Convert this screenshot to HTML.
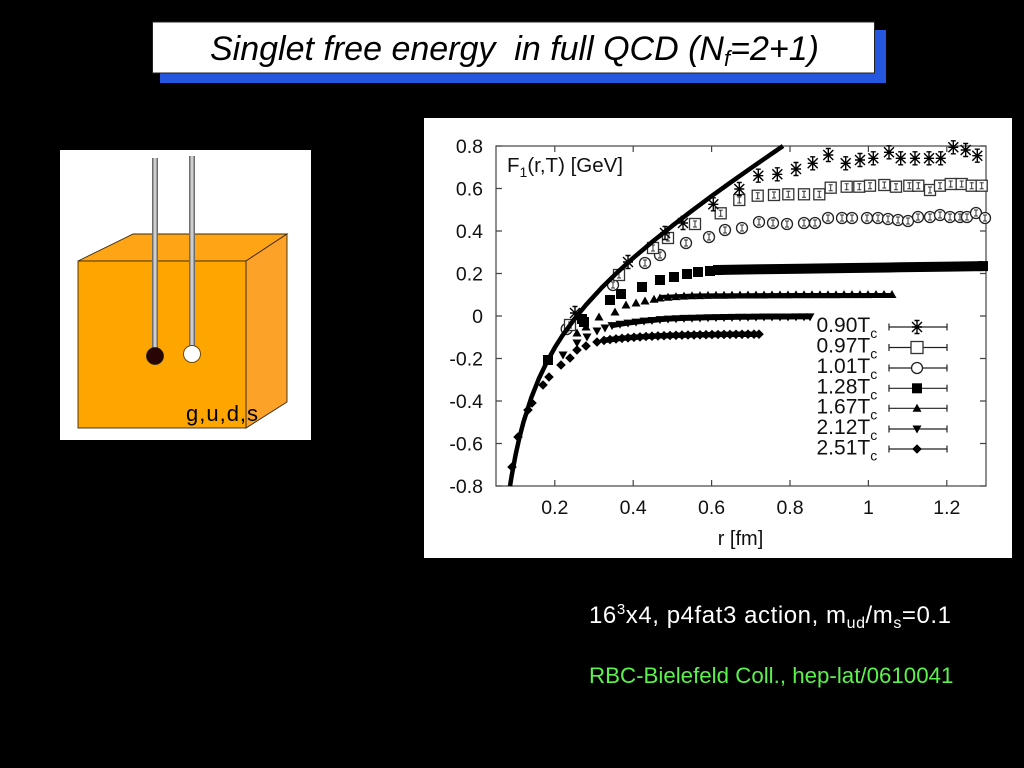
<!DOCTYPE html>
<html><head><meta charset="utf-8"><style>
html,body{margin:0;padding:0;background:#000;width:1024px;height:768px;overflow:hidden}
svg{display:block}
</style></head><body>
<svg width="1024" height="768" viewBox="0 0 1024 768" xmlns="http://www.w3.org/2000/svg" font-family="'Liberation Sans', Arial, sans-serif">
<defs>
<linearGradient id="rod" x1="0" y1="0" x2="1" y2="0">
<stop offset="0" stop-color="#555"/><stop offset="0.5" stop-color="#e6e6e6"/><stop offset="1" stop-color="#555"/>
</linearGradient>
<marker id="mStar" markerUnits="userSpaceOnUse" markerWidth="16" markerHeight="16" refX="8" refY="8" overflow="visible"><path d="M3 3L13 13M3 13L13 3M8 1.5V14.5M3 8H13M5.5 1.5H10.5M5.5 14.5H10.5" stroke="#000" stroke-width="1.4" fill="none"/></marker>
<marker id="mOSq" markerUnits="userSpaceOnUse" markerWidth="16" markerHeight="16" refX="8" refY="8" overflow="visible"><rect x="2.5" y="2.5" width="11" height="11" fill="#fff" stroke="#333" stroke-width="1.3"/><path d="M8 5V11M6 5H10M6 11H10" stroke="#333" stroke-width="1" fill="none"/></marker>
<marker id="mCir" markerUnits="userSpaceOnUse" markerWidth="16" markerHeight="16" refX="8" refY="8" overflow="visible"><circle cx="8" cy="8" r="5.5" fill="#fff" stroke="#222" stroke-width="1.3"/><path d="M8 5V11M6 5H10M6 11H10" stroke="#333" stroke-width="1" fill="none"/></marker>
<marker id="mOCirL" markerUnits="userSpaceOnUse" markerWidth="16" markerHeight="16" refX="8" refY="8" overflow="visible"><circle cx="8" cy="8" r="5.5" fill="#fff" stroke="#222" stroke-width="1.3"/></marker>
<marker id="mOSqL" markerUnits="userSpaceOnUse" markerWidth="16" markerHeight="16" refX="8" refY="8" overflow="visible"><rect x="2" y="2" width="12" height="12" fill="#fff" stroke="#333" stroke-width="1.3"/></marker>
<marker id="mFSq" markerUnits="userSpaceOnUse" markerWidth="16" markerHeight="16" refX="8" refY="8" overflow="visible"><rect x="3" y="3" width="10" height="10" fill="#000"/></marker>
<marker id="mTri" markerUnits="userSpaceOnUse" markerWidth="16" markerHeight="16" refX="8" refY="8" overflow="visible"><path d="M8 3.5L12.5 11.5H3.5Z" fill="#000"/></marker>
<marker id="mDTri" markerUnits="userSpaceOnUse" markerWidth="16" markerHeight="16" refX="8" refY="8" overflow="visible"><path d="M3.5 4.5H12.5L8 12.5Z" fill="#000"/></marker>
<marker id="mDia" markerUnits="userSpaceOnUse" markerWidth="16" markerHeight="16" refX="8" refY="8" overflow="visible"><path d="M8 3.2L12.8 8L8 12.8L3.2 8Z" fill="#000"/></marker>
</defs>

<rect width="1024" height="768" fill="#000"/>

<!-- Title -->
<rect x="160" y="30" width="726" height="53" fill="#2456e0"/>
<rect x="152.5" y="22" width="722" height="51" fill="#fff" stroke="#222" stroke-width="1"/>
<text x="210" y="60" font-size="34" font-style="italic" fill="#000">Singlet free energy&#160; in full QCD (N<tspan font-size="22" dy="6">f</tspan><tspan dy="-6">=2+1)</tspan></text>

<!-- Left picture -->
<rect x="60" y="150" width="251" height="290" fill="#fff"/>
<polygon points="78,261 133,234 287,234 246,261" fill="#ffa414" stroke="#3a2a10" stroke-width="0.9"/>
<polygon points="246,261 287,234 287,402 246,428" fill="#fda229" stroke="#3a2a10" stroke-width="0.9"/>
<rect x="78" y="261" width="168" height="167" fill="#ffa500" stroke="#3a2a10" stroke-width="0.9"/>
<rect x="152" y="158" width="6" height="192" fill="url(#rod)"/>
<rect x="189" y="156" width="6" height="190" fill="url(#rod)"/>
<circle cx="155" cy="356" r="8.5" fill="#2a0505" stroke="#222" stroke-width="0.8"/>
<circle cx="192" cy="354" r="8.5" fill="#fff" stroke="#6a4a10" stroke-width="1"/>
<text x="186" y="421" font-size="22" letter-spacing="1" fill="#000">g,u,d,s</text>

<!-- Chart panel -->
<rect x="424" y="118" width="588" height="440" fill="#fff"/>

<!-- Frame -->
<rect x="496" y="146" width="490" height="340" fill="none" stroke="#444" stroke-width="1.2"/>
<g stroke="#444" stroke-width="1.2">
<path d="M554.8 486v-6M633.2 486v-6M711.6 486v-6M790 486v-6M868.4 486v-6M946.8 486v-6"/>
<path d="M554.8 146v6M633.2 146v6M711.6 146v6M790 146v6M868.4 146v6M946.8 146v6"/>
<path d="M496 146h6M496 188.5h6M496 231h6M496 273.5h6M496 316h6M496 358.5h6M496 401h6M496 443.5h6M496 486h6"/>
<path d="M986 146h-6M986 188.5h-6M986 231h-6M986 273.5h-6M986 316h-6M986 358.5h-6M986 401h-6M986 443.5h-6M986 486h-6"/>
</g>

<!-- Tick labels -->
<g font-size="19.5" fill="#111" text-anchor="end">
<text x="483" y="153">0.8</text>
<text x="483" y="195.5">0.6</text>
<text x="483" y="238">0.4</text>
<text x="483" y="280.5">0.2</text>
<text x="483" y="323">0</text>
<text x="483" y="365.5">-0.2</text>
<text x="483" y="408">-0.4</text>
<text x="483" y="450.5">-0.6</text>
<text x="483" y="493">-0.8</text>
</g>
<g font-size="19.5" fill="#111" text-anchor="middle">
<text x="554.8" y="514">0.2</text>
<text x="633.2" y="514">0.4</text>
<text x="711.6" y="514">0.6</text>
<text x="790" y="514">0.8</text>
<text x="868.4" y="514">1</text>
<text x="946.8" y="514">1.2</text>
</g>
<text x="740.5" y="545" font-size="20" text-anchor="middle" fill="#111">r [fm]</text>
<text x="507" y="172" font-size="20.5" fill="#111">F<tspan font-size="14" dy="5">1</tspan><tspan dy="-5">(r,T) [GeV]</tspan></text>

<!-- Series: 2.51Tc diamonds -->
<polyline points="604,340.4 610,339.6 616,338.9 622,338.3 628,337.8 634,337.3 640,336.9 646,336.5 652,336.2 658,335.9 664,335.7 670,335.5 676,335.3 682,335.1 688,335 694,334.9 700,334.8 706,334.7 712,334.6 718,334.5 724,334.4 730,334.4 736,334.3 742,334.3 748,334.2 754,334.2 759,334.2" fill="none" stroke="#000" stroke-width="5.5"/>
<polyline points="512,467 518,437 528,410 532,403 543,385 549,377 561,365 570,358 577,350 586,346 597,342 604,340.4 610,339.6 616,338.9 622,338.3 628,337.8 634,337.3 640,336.9 646,336.5 652,336.2 658,335.9 664,335.7 670,335.5 676,335.3 682,335.1 688,335 694,334.9 700,334.8 706,334.7 712,334.6 718,334.5 724,334.4 730,334.4 736,334.3 742,334.3 748,334.2 754,334.2 759,334.2" fill="none" stroke="none" marker-start="url(#mDia)" marker-mid="url(#mDia)" marker-end="url(#mDia)"/>

<!-- Series: 2.12Tc down triangles -->
<polyline points="612,325.6 620,324.3 628,323.1 636,322.1 644,321.1 652,320.5 660,319.6 668,319.1 676,318.7 684,318.4 692,318.2 700,318 708,317.8 716,317.6 724,317.5 732,317.4 740,317.3 748,317.2 756,317.1 764,317 772,317 780,317 788,317 796,316.9 804,316.9 810,316.9" fill="none" stroke="#000" stroke-width="5"/>
<polyline points="563,355 577,343 587,337 597,331 605,328 612,325.6 620,324.3 628,323.1 636,322.1 644,321.1 652,320.5 660,319.6 668,319.1 676,318.7 684,318.4 692,318.2 700,318 708,317.8 716,317.6 724,317.5 732,317.4 740,317.3 748,317.2 756,317.1 764,317 772,317 780,317 788,317 796,316.9 804,316.9 810,316.9" fill="none" stroke="none" marker-start="url(#mDTri)" marker-mid="url(#mDTri)" marker-end="url(#mDTri)"/>

<!-- Series: 1.67Tc triangles -->
<polyline points="660,297 668,296.6 676,296.2 684,295.9 692,295.6 700,295.4 740,295.2 800,295 892,295" fill="none" stroke="#000" stroke-width="4"/>
<polyline points="577,333 586,327 599,317 615,312 626,305 636,303 645,301 654,299.3 660,298 668,297.2 676,296.6 684,296.1 692,295.8 700,295.6 708,295.4 716,295.3 724,295.2 732,295.1 740,295 748,295 756,295 764,295 772,294.9 780,294.9 788,294.9 796,294.8 804,294.8 812,294.8 820,294.7 828,294.7 836,294.7 844,294.6 852,294.6 860,294.6 868,294.6 876,294.5 884,294.5 892,294.5" fill="none" stroke="none" marker-start="url(#mTri)" marker-mid="url(#mTri)" marker-end="url(#mTri)"/>

<!-- Series: 1.28Tc filled squares -->
<polyline points="716,270 760,269.3 800,268.8 850,268 900,267.3 950,266.6 983,266.1" fill="none" stroke="#000" stroke-width="10"/>
<polyline points="548,360 582,319 584,322 610,300 621,294 642,287 660,280 674,277 687,274 698,272 710,271 718,270 983,266.1" fill="none" stroke="none" marker-start="url(#mFSq)" marker-mid="url(#mFSq)" marker-end="url(#mFSq)"/>

<!-- Series: 1.01Tc circles -->
<polyline points="566.7,329 613,285 645,263 660,255 686,243 709,237 725,230 742,228 759,222 773,223 787,224 804,223 815,223 828,218 842,218 852,218 867,218 878,218 888,219 898,220 908,221 918,217 930,217 940,215 950,217 960,217 967,217 976,213 985,218" fill="none" stroke="none" marker-start="url(#mCir)" marker-mid="url(#mCir)" marker-end="url(#mCir)"/>

<!-- Series: 0.97Tc open squares -->
<polyline points="570,325 619,275 653,248 668,238 695,224 720.7,213.3 739.3,200 757.7,195.7 774,195 788.3,194.3 804,194.3 819.3,194.3 830.7,187.7 846.7,186.7 859.3,186.7 870,185.7 884.3,185 896,186.7 909.3,185.7 918.3,185.7 930,190 940,185.7 950.7,184 961.7,184 971.7,185.7 981.7,185.7" fill="none" stroke="none" marker-start="url(#mOSq)" marker-mid="url(#mOSq)" marker-end="url(#mOSq)"/>

<!-- Series: 0.90Tc stars -->
<polyline points="575,313 628,262 665,233 683,223 713.3,204.3 739.3,189 758.3,175.7 777.3,174.3 796,169 812.7,163.3 828.3,155 845.7,163.3 860,160 873.3,158.3 889,152.3 900.7,158.3 915,158.3 929,158.3 940.7,158.3 953.3,147.3 965.7,150 977.3,155.7" fill="none" stroke="none" marker-start="url(#mStar)" marker-mid="url(#mStar)" marker-end="url(#mStar)"/>

<!-- T=0 curve -->
<polyline points="510,486.1 511.7,475.7 515.6,454.8 519.5,437.3 523.4,422.3 531.3,397.7 539.1,378.1 547,361.7 554.8,347.6 562.6,335.3 574.4,319 586.2,304.7 601.8,287.6 617.5,272.2 633.2,258 652.8,241.4 672.4,225.7 692,210.7 711.6,196.1 731.2,182 750.8,168.2 770.4,154.6 783,146" fill="none" stroke="#000" stroke-width="4.5" stroke-linejoin="round"/>

<!-- Legend -->
<g font-size="21" fill="#111">
<text x="816.5" y="332">0.90T<tspan font-size="14" dy="6">c</tspan></text>
<text x="816.5" y="352.5">0.97T<tspan font-size="14" dy="6">c</tspan></text>
<text x="816.5" y="373">1.01T<tspan font-size="14" dy="6">c</tspan></text>
<text x="816.5" y="393.5">1.28T<tspan font-size="14" dy="6">c</tspan></text>
<text x="816.5" y="413.5">1.67T<tspan font-size="14" dy="6">c</tspan></text>
<text x="816.5" y="434">2.12T<tspan font-size="14" dy="6">c</tspan></text>
<text x="816.5" y="454.5">2.51T<tspan font-size="14" dy="6">c</tspan></text>
</g>
<g stroke="#222" stroke-width="1.2" fill="none">
<path d="M889 327H947M889 323.5V330.5M947 323.5V330.5"/>
<path d="M889 347.5H947M889 344V351M947 344V351"/>
<path d="M889 368H947M889 364.5V371.5M947 364.5V371.5"/>
<path d="M889 388.3H947M889 384.8V391.8M947 384.8V391.8"/>
<path d="M889 408.3H947M889 404.8V411.8M947 404.8V411.8"/>
<path d="M889 429H947M889 425.5V432.5M947 425.5V432.5"/>
<path d="M889 449H947M889 445.5V452.5M947 445.5V452.5"/>
</g>
<polyline points="900,327 917,327 934,327" fill="none" stroke="none" marker-mid="url(#mStar)"/>
<polyline points="900,347.5 917,347.5 934,347.5" fill="none" stroke="none" marker-mid="url(#mOSqL)"/>
<polyline points="900,368 917,368 934,368" fill="none" stroke="none" marker-mid="url(#mOCirL)"/>
<polyline points="900,388.3 917,388.3 934,388.3" fill="none" stroke="none" marker-mid="url(#mFSq)"/>
<polyline points="900,408.3 917,408.3 934,408.3" fill="none" stroke="none" marker-mid="url(#mTri)"/>
<polyline points="900,429 917,429 934,429" fill="none" stroke="none" marker-mid="url(#mDTri)"/>
<polyline points="900,449 917,449 934,449" fill="none" stroke="none" marker-mid="url(#mDia)"/>

<!-- Captions -->
<text x="589" y="623" font-size="24" fill="#fff" textLength="362" lengthAdjust="spacing">16<tspan font-size="15" dy="-9">3</tspan><tspan dy="9">x4, p4fat3 action, m</tspan><tspan font-size="16" dy="5">ud</tspan><tspan dy="-5">/m</tspan><tspan font-size="16" dy="5">s</tspan><tspan dy="-5">=0.1</tspan></text>
<text x="589" y="683" font-size="22.3" fill="#5cf24c">RBC-Bielefeld Coll., hep-lat/0610041</text>
</svg>
</body></html>
